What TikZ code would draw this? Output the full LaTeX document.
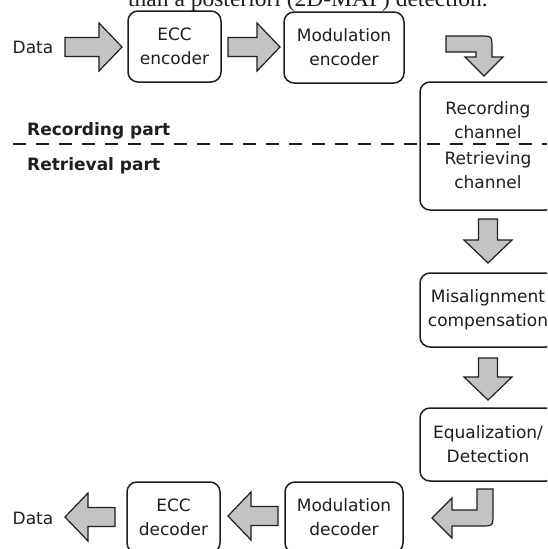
\documentclass[tikz,border=0pt]{standalone}
\usepackage{fontspec}
\setmainfont{DejaVu Sans}
\newfontfamily\serifpart{Liberation Serif}
\usetikzlibrary{calc}
\definecolor{arrowgray}{RGB}{195,195,195}
\definecolor{ink}{RGB}{30,30,30}
\tikzset{
  blk/.style={draw=ink, line width=1.5pt, rounded corners=10pt, fill=white,
    font=\fontsize{17pt}{24pt}\selectfont, align=center, text=ink, inner sep=0pt},
  lbl/.style={font=\fontsize{17pt}{24pt}\selectfont, align=center, text=ink, inner sep=0pt},
  partlbl/.style={font=\fontsize{17pt}{20pt}\selectfont\bfseries, anchor=west, inner sep=0pt, text=ink},
  barrow/.style={draw=ink, line width=1.2pt, fill=arrowgray, line join=miter},
  pics/blockarrow/.style={code={
      \draw[barrow] (-#1/2,-9.5) -- (#1/2-23,-9.5) -- (#1/2-23,-24) -- (#1/2,0)
        -- (#1/2-23,24) -- (#1/2-23,9.5) -- (-#1/2,9.5) -- cycle;
  }},
}
\begin{document}
\begin{tikzpicture}[x=1pt,y=-1pt]
\useasboundingbox (0,0) rectangle (547,549);
\clip (0,0) rectangle (547,549);

% clipped caption line from the surrounding text
\node[font=\serifpart\fontsize{23.5pt}{24pt}\selectfont, anchor=base west, inner sep=0pt, text=ink]
  (cap) at (128,6) {than a posteriori (2D-MAP) detection.};

% top row
\node[lbl] (datain) at (33,47) {Data};
\node[blk, minimum width=93pt, minimum height=71pt] (ecce) at (174.5,46.5) {ECC\\encoder};
\node[blk, minimum width=120pt, minimum height=71pt] (mode) at (344,47.5) {Modulation\\encoder};

% right column
\node[blk, minimum width=136pt, minimum height=128pt] (chan) at (488,146) {};
\node[lbl] (rec) at (488,120) {Recording\\channel};
\node[lbl] (ret) at (488,170) {Retrieving\\channel};
\node[blk, minimum width=136pt, minimum height=74pt] (misal) at (488,310) {Misalignment\\compensation};
\node[blk, minimum width=136pt, minimum height=73pt] (equal) at (488,444.5) {Equalization/\\Detection};

% bottom row
\node[blk, minimum width=118pt, minimum height=71pt] (modd) at (344,517.5) {Modulation\\decoder};
\node[blk, minimum width=93pt, minimum height=71pt] (eccd) at (173.5,517.5) {ECC\\decoder};
\node[lbl] (dataout) at (33,518) {Data};

% part labels and divider
\node[partlbl] (recpart) at (27,131) {Recording part};
\node[partlbl] (retpart) at (27,166) {Retrieval part};
\coordinate (divl) at (13,144);
\coordinate (divr) at (547,144);
\draw[ink, line width=1.3pt, dash pattern=on 13pt off 10pt] (divl) -- (divr);

% block arrows
\pic at (93.5,47) {blockarrow=57};
\pic at (254,47) {blockarrow=52};
\pic[rotate=-90] at (488,241) {blockarrow=44};
\pic[rotate=-90] at (488,379) {blockarrow=42};
\pic[rotate=180] at (253,516) {blockarrow=50};
\pic[rotate=180] at (90,517) {blockarrow=50};

% bent arrow: modulation encoder -> recording channel
\draw[barrow] (446,36) -- (480,36) .. controls (492,36) .. (492,48) -- (492,57)
  -- (503,57) -- (484,76) -- (465,57) -- (476,57) -- (476,52) -- (446,52) -- cycle;

% hook arrow: equalization -> modulation decoder
\draw[barrow] (477,489) -- (493,489) -- (493,514) .. controls (493,526) .. (481,526)
  -- (452,526) -- (452,538) -- (432,518) -- (452,498) -- (452,510) -- (477,510) -- cycle;
\end{tikzpicture}
\end{document}
